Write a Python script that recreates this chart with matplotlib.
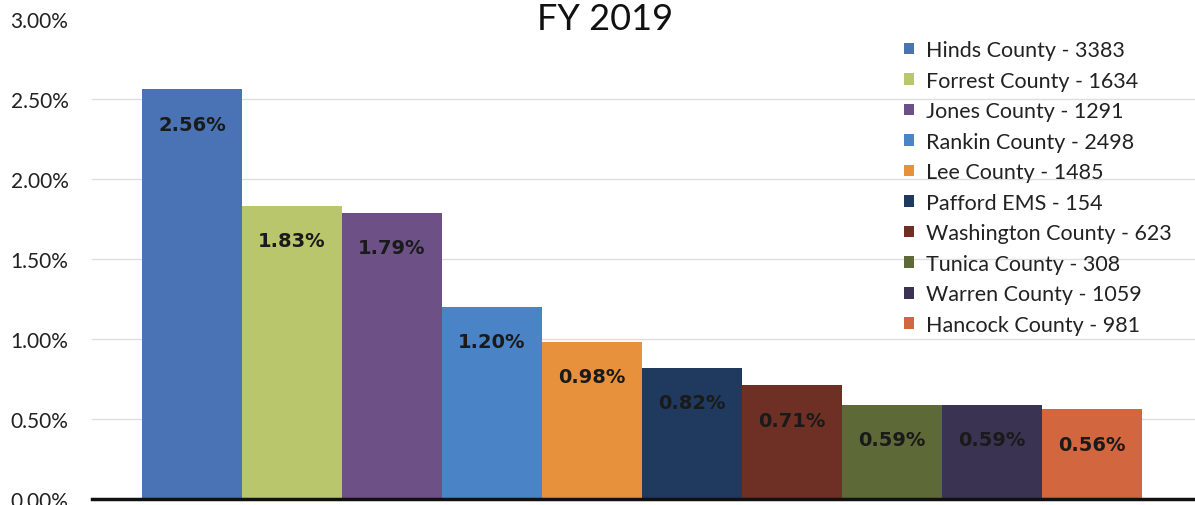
import numpy as np
import matplotlib.pyplot as plt

# FY 2019 rates per county
names = ["Hinds County - 3383", "Forrest County - 1634", "Jones County - 1291",
         "Rankin County - 2498", "Lee County - 1485", "Pafford EMS - 154",
         "Washington County - 623", "Tunica County - 308", "Warren County - 1059",
         "Hancock County - 981"]
values = [2.56, 1.83, 1.79, 1.20, 0.98, 0.82, 0.71, 0.59, 0.59, 0.56]
labels = ["2.56%", "1.83%", "1.79%", "1.20%", "0.98%", "0.82%", "0.71%", "0.59%", "0.59%", "0.56%"]
colors = ["#4a73b6", "#b9c66c", "#6c5086", "#4b84c6", "#e8913c",
          "#1f3a5e", "#6e3024", "#5d6936", "#3b3352", "#d2663e"]
yticks = [0, 0.5, 1.0, 1.5, 2.0, 2.5, 3.0]

plt.rcParams['font.family'] = ['Lato', 'DejaVu Sans']

fig = plt.figure(figsize=(11.95, 5.06), dpi=100)
ax = fig.add_axes([0.077, 0.0119, 0.923, 0.9486])

x = np.arange(len(values))
bars = ax.bar(x, values, width=1.0, color=colors, label=names, zorder=2)

for xi, v, lab in zip(x, values, labels):
    ax.annotate(lab, (xi, v), xytext=(0, -25), textcoords="offset points",
                ha="center", va="center", fontsize=14, fontweight="bold",
                color="#1a1a1a", family="DejaVu Sans", zorder=3)

ax.set_xlim(-1.0, 10.03)
ax.set_ylim(0, 3.0)
ax.set_yticks(yticks)
ax.set_yticklabels(["%.2f%%" % t for t in yticks], fontsize=15, color="#222222")
ax.set_xticks([])
ax.tick_params(axis="y", length=0, pad=17)
ax.yaxis.grid(True, color="#dedede", linewidth=1, zorder=0)
ax.yaxis.get_gridlines()[-1].set_visible(False)
for s in ["top", "right", "left"]:
    ax.spines[s].set_visible(False)
ax.spines["bottom"].set_linewidth(2.5)
ax.spines["bottom"].set_color("#111111")

fig.text(605 / 1195, 1 - 20 / 506, "FY 2019", fontsize=26, color="#111111",
         ha="center", va="center")

leg = ax.legend(loc="upper left", bbox_to_anchor=(904 / 1195, 1 - 41 / 506),
                bbox_transform=fig.transFigure, frameon=False,
                fontsize=15.5, handlelength=0.45, handleheight=0.45,
                handletextpad=0.55, labelspacing=0.49, borderaxespad=0, borderpad=0)
for t in leg.get_texts():
    t.set_color("#222222")

fig.savefig("out.png", dpi=100)
